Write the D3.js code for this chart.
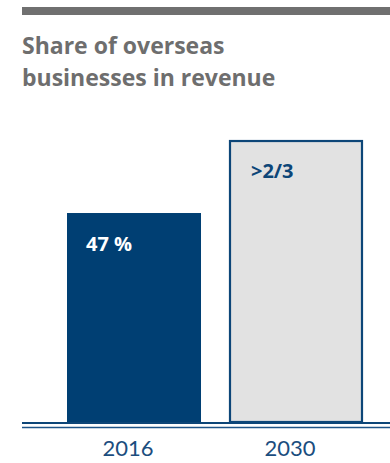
<!DOCTYPE html>
<html>
<head>
<meta charset="utf-8">
<script src="https://cdn.jsdelivr.net/npm/d3@7"></script>
<style>
  html, body { margin: 0; padding: 0; background: #fff; }
  svg { display: block; font-family: Lato, "Open Sans", sans-serif; }
</style>
</head>
<body>
<svg id="chart" width="390" height="463"></svg>
<script>
// Share of revenue from overseas businesses (%)
const years = ["2016", "2030"];
const shares = [47, 200 / 3];
const valueLabels = ["47 %", ">2/3"];
const titleLines = ["Share of overseas", "businesses in revenue"];

const svg = d3.select("#chart");
const W = 390;
const baseline = 422;

// Heading rule
svg.append("rect")
  .attr("x", 22).attr("y", 7)
  .attr("width", W - 22).attr("height", 8)
  .attr("fill", "#707070");

// Title
svg.append("text")
  .attr("x", 22).attr("y", 54)
  .attr("fill", "#6e6e6e")
  .attr("font-family", "'Open Sans', sans-serif")
  .attr("font-size", 23)
  .attr("font-weight", 700)
  .selectAll("tspan")
  .data(titleLines)
  .join("tspan")
  .attr("x", 22)
  .attr("dy", (d, i) => i === 0 ? 0 : 31.5)
  .text(d => d);

const x = d3.scaleBand()
  .domain(years)
  .range([67, 363])
  .paddingInner(0.1728)
  .paddingOuter(0);

// Value axis starts below zero so the forecast bar sits at its drawn height
const y = d3.scaleLinear()
  .domain([-9.3, 75])
  .range([baseline, baseline - 84.3 * 3.712]);

const data = years.map((yr, i) => ({ year: yr, value: shares[i], label: valueLabels[i], i }));

// Bars: actual (solid) and target (outlined)
svg.selectAll("rect.bar")
  .data(data)
  .join("rect")
  .attr("class", "bar")
  .attr("x", d => d.i === 0 ? x(d.year) : x(d.year) + 1)
  .attr("y", d => d.i === 0 ? y(d.value) : y(d.value) + 1)
  .attr("width", d => d.i === 0 ? x.bandwidth() : x.bandwidth() - 2)
  .attr("height", d => d.i === 0 ? baseline - y(d.value) : baseline - y(d.value) - 1)
  .attr("fill", d => d.i === 0 ? "#003f73" : "#e2e2e2")
  .attr("stroke", d => d.i === 0 ? "none" : "#0d4678")
  .attr("stroke-width", 2.2);

// Value labels inside bars
svg.selectAll("text.val")
  .data(data)
  .join("text")
  .attr("class", "val")
  .attr("x", d => x(d.year) + 19 + (d.i === 0 ? 0 : 3))
  .attr("y", d => y(d.value) + 38)
  .attr("fill", d => d.i === 0 ? "#ffffff" : "#0d4678")
  .attr("font-family", "'Open Sans', sans-serif")
  .attr("font-size", 20)
  .attr("font-weight", 700)
  .text(d => d.label);

// Double baseline
svg.append("line")
  .attr("x1", 22).attr("x2", W)
  .attr("y1", baseline + 1).attr("y2", baseline + 1)
  .attr("stroke", "#0d4678").attr("stroke-width", 2.2);
svg.append("line")
  .attr("x1", 22).attr("x2", W)
  .attr("y1", baseline + 5.5).attr("y2", baseline + 5.5)
  .attr("stroke", "#1d5488").attr("stroke-width", 1.5);

// Year labels
const axis = d3.axisBottom(x).tickSize(0).tickPadding(0);
const gAxis = svg.append("g")
  .attr("transform", `translate(-6,${baseline})`)
  .call(axis);
gAxis.select(".domain").remove();
gAxis.selectAll("text")
  .attr("y", 34)
  .attr("dy", 0)
  .attr("fill", "#1b4d7e")
  .attr("font-size", 22)
  .attr("font-family", "Lato, 'Open Sans', sans-serif");
</script>
</body>
</html>
